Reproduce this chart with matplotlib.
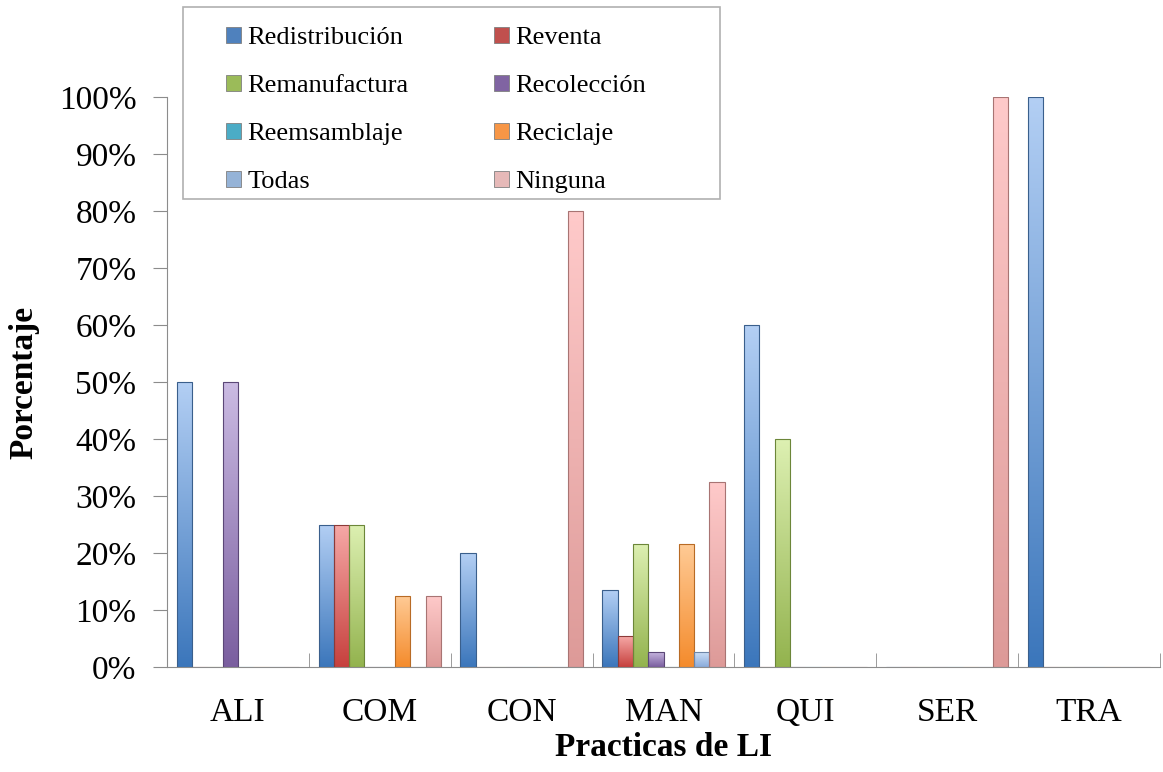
import numpy as np
import matplotlib.pyplot as plt
from matplotlib.colors import LinearSegmentedColormap
from matplotlib.patches import Patch, Rectangle

plt.rcParams['font.family'] = ['Liberation Serif', 'DejaVu Serif']

categories = ['ALI', 'COM', 'CON', 'MAN', 'QUI', 'SER', 'TRA']
series = ['Redistribución', 'Reventa', 'Remanufactura', 'Recolección',
          'Reemsamblaje', 'Reciclaje', 'Todas', 'Ninguna']

# porcentajes (0-1)
redistribucion = [0.50, 0.25, 0.20, 0.135, 0.60, 0.0, 1.00]
reventa = [0.0, 0.25, 0.0, 0.054, 0.0, 0.0, 0.0]
remanufactura = [0.0, 0.25, 0.0, 0.216, 0.40, 0.0, 0.0]
recoleccion = [0.50, 0.0, 0.0, 0.027, 0.0, 0.0, 0.0]
reemsamblaje = [0.0, 0.0, 0.0, 0.0, 0.0, 0.0, 0.0]
reciclaje = [0.0, 0.125, 0.0, 0.216, 0.0, 0.0, 0.0]
todas = [0.0, 0.0, 0.0, 0.027, 0.0, 0.0, 0.0]
ninguna = [0.0, 0.125, 0.80, 0.324, 0.0, 1.00, 0.0]

values = [redistribucion, reventa, remanufactura, recoleccion,
          reemsamblaje, reciclaje, todas, ninguna]

# (top, bottom, edge)
colors = [('#b3cff4', '#3b76bb', '#3a5f8c'),
          ('#f6a9a7', '#c6403d', '#8c3a38'),
          ('#ddf0b2', '#93b34e', '#6c8639'),
          ('#cbbbe3', '#7a5e9f', '#5b4777'),
          ('#a9dcea', '#3f9fba', '#2f7a8e'),
          ('#ffcb96', '#f48b2c', '#b86b25'),
          ('#cfe1f8', '#8aacdb', '#6d86a8'),
          ('#ffcaca', '#dd9a98', '#a87473')]
legend_colors = ['#4f81bd', '#c0504d', '#9bbb59', '#8064a2',
                 '#4bacc6', '#f79646', '#95b3d7', '#e6b9b8']

W, H = 1163, 772
fig = plt.figure(figsize=(W / 100, H / 100), dpi=100)
ax = fig.add_axes([167 / W, 105 / H, 993 / W, 570 / H])

x = np.arange(len(categories))
w = 0.108
n = len(series)
grad = np.linspace(0, 1, 256).reshape(-1, 1)
for i, (vals, (ctop, cbot, cedge)) in enumerate(zip(values, colors)):
    offs = (i - (n - 1) / 2) * w
    bars = ax.bar(x + offs, vals, w, color='none', edgecolor=cedge, linewidth=0.8, zorder=3)
    cmap = LinearSegmentedColormap.from_list('g%d' % i, [cbot, ctop])
    for b in bars:
        h = b.get_height()
        if h <= 0:
            continue
        x0 = b.get_x()
        im = ax.imshow(grad, cmap=cmap, aspect='auto', origin='lower',
                       extent=[x0, x0 + b.get_width(), 0, h], zorder=2.5)
        im.set_clip_path(b)

ax.set_xlim(-0.5, len(categories) - 0.5)
ax.set_ylim(0, 1)
yt = np.arange(0, 1.01, 0.1)
ax.set_yticks(yt)
ax.set_yticklabels(['%d%%' % round(v * 100) for v in yt])
ax.set_xticks(x)
ax.set_xticklabels(categories)
ax.set_xticks(np.arange(-0.5, len(categories)), minor=True)
ax.tick_params(axis='x', which='major', length=0, pad=22, labelsize=24)
ax.tick_params(axis='x', which='minor', direction='in', length=10, color='#8c8c8c')
ax.tick_params(axis='y', direction='out', length=10, color='#8c8c8c', pad=12, labelsize=24)

for s in ['top', 'right']:
    ax.spines[s].set_visible(False)
for s in ['left', 'bottom']:
    ax.spines[s].set_color('#8c8c8c')

ax.set_ylabel('Porcentaje', fontsize=24, fontweight='bold')
ax.yaxis.set_label_coords(-0.128, 0.5)
ax.set_xlabel('Practicas de LI', fontsize=24, fontweight='bold')
ax.xaxis.set_label_coords(0.5, -0.114)

# legend box
fig.patches.append(Rectangle((183 / W, 1 - 199 / H), 537 / W, 192 / H,
                             transform=fig.transFigure, facecolor='white',
                             edgecolor='#b0b0b0', linewidth=1.2, zorder=4))

handles = [Patch(facecolor=c, edgecolor='#7f7f7f', linewidth=0.6) for c in legend_colors]
order = [0, 2, 4, 6, 1, 3, 5, 7]
leg = fig.legend([handles[k] for k in order], [series[k] for k in order],
                 ncol=2, loc='upper left', bbox_to_anchor=(226 / W, 1 - 27 / H),
                 fontsize=19, frameon=False,
                 handlelength=0.55, handleheight=0.55, handletextpad=0.25,
                 columnspacing=3.25, labelspacing=0.97, borderpad=0, borderaxespad=0)
leg.set_zorder(5)

fig.savefig('out.png', dpi=100)
